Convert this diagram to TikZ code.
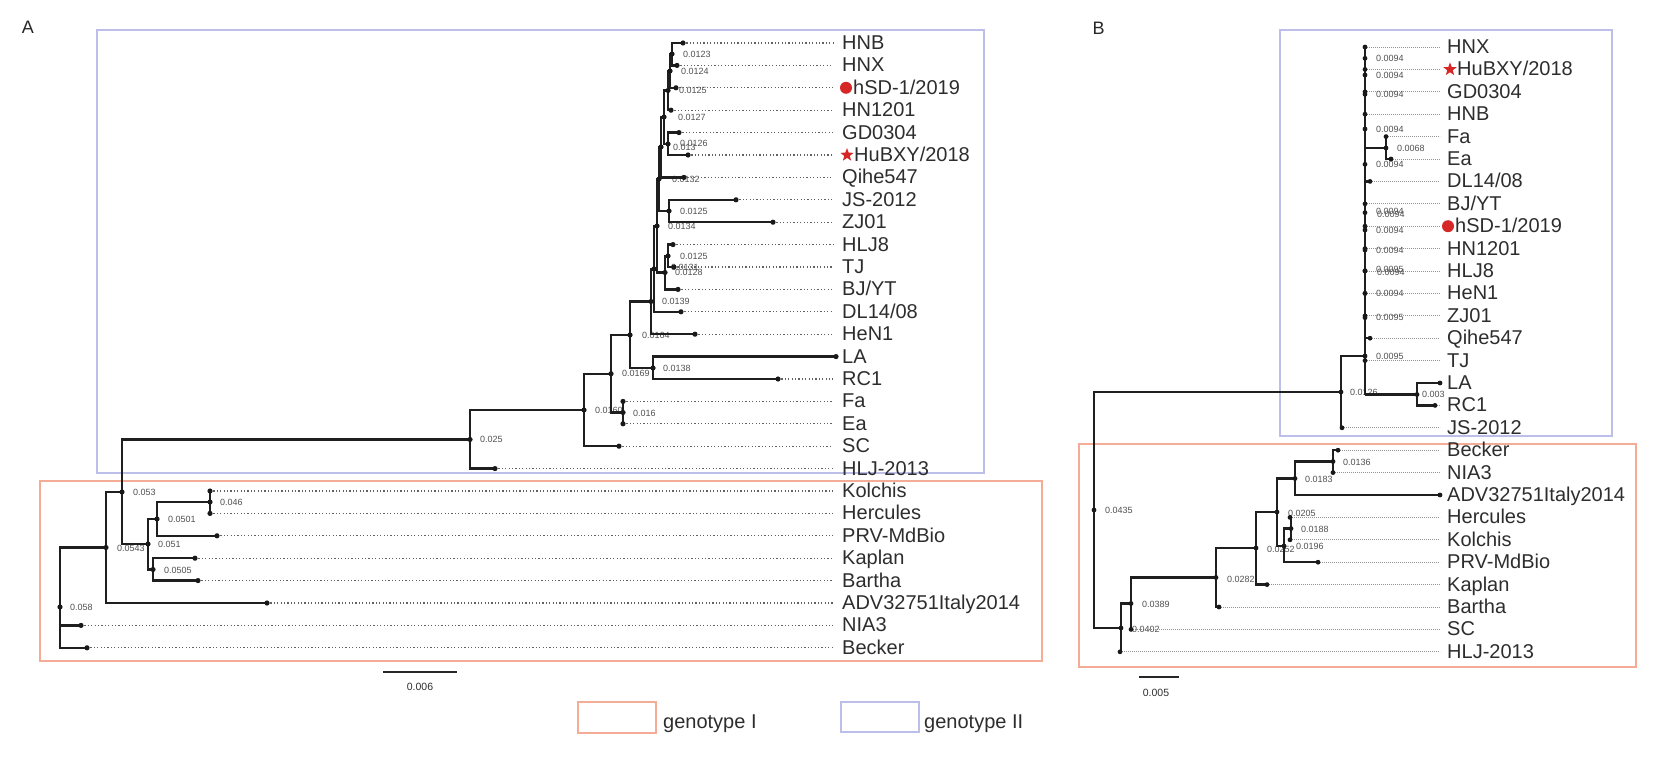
\documentclass[tikz,border=0pt]{standalone}
\usepackage{fontspec}
\setmainfont{Liberation Sans}
\usetikzlibrary{shapes.geometric}
\definecolor{gtone}{RGB}{245,172,150}
\definecolor{gttwo}{RGB}{190,190,234}
\definecolor{labgray}{RGB}{45,45,45}
\definecolor{numgray}{RGB}{80,80,80}
\definecolor{redmark}{RGB}{214,38,38}
\tikzset{
  branch/.style={line width=2.4pt, draw=black!88, line join=miter},
  ndot/.style={fill=black!90},
  dotA/.style={line width=1.2pt, draw=black!62, dash pattern=on 1.2pt off 2.2pt},
  dotB/.style={line width=0.8pt, draw=black!42, dash pattern=on 0.8pt off 1.2pt},
  tiplab/.style={anchor=base west, inner sep=0pt, font=\fontsize{20}{20}\selectfont, text=labgray},
  numlab/.style={anchor=west, inner sep=0pt, font=\fontsize{9}{9}\selectfont, text=numgray},
  panlab/.style={inner sep=0pt, font=\fontsize{18}{18}\selectfont, text=black!85},
  boxone/.style={draw=gtone, line width=2pt},
  boxtwo/.style={draw=gttwo, line width=2pt},
  reddot/.style={circle, fill=redmark, minimum size=12pt, inner sep=0pt},
  redstar/.style={star, star points=5, star point ratio=2.4, fill=redmark, minimum size=14pt, inner sep=0pt},
  scalebar/.style={line width=2.2pt, draw=black!85},
  scalelab/.style={inner sep=0pt, font=\fontsize{10.5}{10.5}\selectfont, text=labgray},
  leglab/.style={anchor=base west, inner sep=0pt, font=\fontsize{20}{20}\selectfont, text=labgray}
}
\begin{document}
\begin{tikzpicture}[x=1pt,y=-1pt]
\useasboundingbox (0,0) rectangle (1673,757);
% ---------- boxes ----------
\draw[boxtwo] (97,30) rectangle (984,473);
\draw[boxone] (40,481) rectangle (1042,661);
\draw[boxtwo] (1280,30) rectangle (1612,436);
\draw[boxone] (1079,444) rectangle (1636,667);
\node[panlab] (pA) at (28,27) {A};
\node[panlab] (pB) at (1098.5,28) {B};
% ---------- panel A tips ----------
\foreach \n/\x/\y/\lx/\t in {
 aHNB/683/43/842/HNB, aHNX/677/65.4/842/HNX, aHSD/676/87.8/853/{hSD-1/2019},
 aHN1201/671/110.2/842/HN1201, aGD/679/132.6/842/GD0304, aHUB/688/155/854/{HuBXY/2018},
 aQH/684/177.4/842/Qihe547, aJS/736/199.8/842/JS-2012, aZJ/773/222.2/842/ZJ01,
 aHLJ8/673/244.6/842/HLJ8, aTJ/674/267/842/TJ, aBJ/678/289.4/842/{BJ/YT},
 aDL/681/311.8/842/{DL14/08}, aHEN/695/334.2/842/HeN1, aLA/836/356.6/842/LA,
 aRC/778/379/842/RC1, aFA/623/401.4/842/Fa, aEA/623/423.8/842/Ea,
 aSC/619/446.2/842/SC, aHLJ13/495/468.6/842/HLJ-2013, aKOL/210/491/842/Kolchis,
 aHER/210/513.4/842/Hercules, aPRV/217/535.8/842/PRV-MdBio, aKAP/195/558.2/842/Kaplan,
 aBAR/198/580.6/842/Bartha, aADV/267/603/842/ADV32751Italy2014, aNIA/81/625.4/842/NIA3,
 aBEC/87/647.8/842/Becker}{
  \coordinate (\n) at (\x,\y);
  \coordinate (E\n) at (833,\y);
  \draw[dotA] (\n) -- (E\n);
  \node[tiplab] (L\n) at (\lx,{\y+6.5}) {\t};
}
% ---------- panel A internal nodes ----------
\coordinate (a1) at (672,54);
\coordinate (a2) at (670,71);
\coordinate (a3) at (668,90.5);
\coordinate (h1) at (668,144);
\coordinate (a4) at (664,117);
\coordinate (a5) at (661,147);
\coordinate (i1) at (669,211);
\coordinate (a6) at (659,179);
\coordinate (b1) at (668,256);
\coordinate (b2) at (665,272.5);
\coordinate (c1) at (657,226);
\coordinate (d1) at (654,269);
\coordinate (k1) at (651,301.5);
\coordinate (m1) at (653,368);
\coordinate (e1) at (630,335);
\coordinate (n1) at (623,412.5);
\coordinate (f1) at (611,373.75);
\coordinate (g1) at (584,410);
\coordinate (r2) at (470,439.5);
\coordinate (p1) at (210,502);
\coordinate (p2) at (157,519);
\coordinate (p3) at (153,569.5);
\coordinate (p4) at (148,544);
\coordinate (p5) at (122,492);
\coordinate (p6) at (106,547.5);
\coordinate (rA) at (60,607);
% labels A
\foreach \x/\y/\t in {683/54/0.0123, 681/71/0.0124, 679/90/0.0125, 680/143/0.0126,
 678/117/0.0127, 673/147/0.013, 672/179/0.0132, 680/211/0.0125, 668/226/0.0134,
 680/256/0.0125, 675/272/0.0128, 671/267.5/0.0131, 662/301/0.0139, 642/335/0.0164,
 663/368/0.0138, 622/373/0.0169, 633/413/0.016, 595/410/0.0160, 480/439/0.025,
 220/502/0.046, 168/519/0.0501, 158/544/0.051, 164/570/0.0505, 133/492/0.053,
 117/548/0.0543, 70/607/0.058}{
  \node[numlab] at (\x,\y) {\t};
}
% branches A
\foreach \p/\c in {a1/aHNB, a1/aHNX, a2/a1, a2/aHSD, a3/a2, a3/aHN1201, h1/aGD, h1/aHUB,
 a4/a3, a4/h1, a5/a4, a5/aQH, i1/aJS, i1/aZJ, a6/a5, a6/i1, b1/aHLJ8, b1/aTJ, b2/b1,
 b2/aBJ, c1/a6, c1/b2, d1/c1, d1/aDL, k1/d1, k1/aHEN, m1/aLA, m1/aRC, e1/k1, e1/m1,
 n1/aFA, n1/aEA, f1/e1, f1/n1, g1/f1, g1/aSC, r2/g1, r2/aHLJ13, p1/aKOL, p1/aHER,
 p2/p1, p2/aPRV, p3/aKAP, p3/aBAR, p4/p2, p4/p3, p5/r2, p5/p4, p6/p5, p6/aADV,
 rA/p6, rA/aNIA, rA/aBEC}{
  \draw[branch] (\p) |- (\c);
}
\foreach \n in {aHNB,aHNX,aHSD,aHN1201,aGD,aHUB,aQH,aJS,aZJ,aHLJ8,aTJ,aBJ,aDL,aHEN,aLA,
 aRC,aFA,aEA,aSC,aHLJ13,aKOL,aHER,aPRV,aKAP,aBAR,aADV,aNIA,aBEC,
 a1,a2,a3,h1,a4,a5,i1,a6,b1,b2,c1,d1,k1,m1,e1,n1,f1,g1,r2,p1,p2,p3,p4,p5,p6,rA}{
  \fill[ndot] (\n) circle (2.6pt);
}
\node[reddot] (mkA) at (846,87.8) {};
\node[redstar] (stA) at (847,155) {};
% scale A
\coordinate (sA1) at (383,672);
\coordinate (sA2) at (457,672);
\draw[scalebar] (sA1) -- (sA2);
\node[scalelab] (sAl) at (420,687) {0.006};
% ---------- panel B tips ----------
\foreach \n/\x/\y/\lx/\t in {
 bHNX/1365/47/1447/HNX, bHUB/1365/69.4/1457/{HuBXY/2018}, bGD/1365/91.8/1447/GD0304,
 bHNB/1365/114.2/1447/HNB, bFA/1386/136.6/1447/Fa, bEA/1391/159/1447/Ea,
 bDL/1370/181.4/1447/{DL14/08}, bBJ/1365/203.8/1447/{BJ/YT}, bHSD/1365/226.2/1455/{hSD-1/2019},
 bHN1201/1365/248.6/1447/HN1201, bHLJ8/1365/271/1447/HLJ8, bHEN/1365/293.4/1447/HeN1,
 bZJ/1365/315.8/1447/ZJ01, bQH/1370/338.2/1447/Qihe547, bTJ/1365/360.6/1447/TJ,
 bLA/1440/383/1447/LA, bRC/1435/405.4/1447/RC1, bJS/1342/427.8/1447/JS-2012,
 bBEC/1338/450.2/1447/Becker, bNIA/1333/472.6/1447/NIA3, bADV/1440/495/1447/ADV32751Italy2014,
 bHER/1290/517.4/1447/Hercules, bKOL/1290/539.8/1447/Kolchis, bPRV/1318/562.2/1447/PRV-MdBio,
 bKAP/1267/584.6/1447/Kaplan, bBAR/1219/607/1447/Bartha, bSC/1131/629.4/1447/SC,
 bHLJ13/1120/651.8/1447/HLJ-2013}{
  \coordinate (\n) at (\x,\y);
  \coordinate (E\n) at (1440,\y);
  \draw[dotB] (\n) -- (E\n);
  \node[tiplab] (L\n) at (\lx,{\y+6.5}) {\t};
}
% comb nodes on x=1365
\foreach \n/\y in {c58/58.3, c75/75, c94/94.3, c129/129, c148/148, c164/164.3, c181/181.4,
 c213/212.7, c230/230, c250/250, c271/270.7, c293/293.3, c318/317.7, c338/338.2, c356/356}{
  \coordinate (\n) at (1365,\y);
}
\coordinate (cbot) at (1365,394.5);
\coordinate (q1) at (1386,148);
\coordinate (q2) at (1417,394.5);
\coordinate (s1) at (1341,392);
\coordinate (u1) at (1333,461.5);
\coordinate (u2) at (1295,478.5);
\coordinate (u3) at (1291,528.6);
\coordinate (u4) at (1284,546);
\coordinate (u5) at (1277,512);
\coordinate (u6) at (1256,548);
\coordinate (u7) at (1216,577.5);
\coordinate (u8) at (1131,603.5);
\coordinate (u9) at (1121,628);
\coordinate (rB) at (1094,510);
% labels B
\foreach \x/\y/\t in {1376/58.3/0.0094, 1376/75/0.0094, 1376/94.3/0.0094, 1376/129/0.0094,
 1397/148/0.0068, 1376/164.3/0.0094, 1376/211/0.0094, 1377/214.5/0.0094, 1376/230/0.0094,
 1376/250/0.0094, 1376/269/0.0095, 1377/272.5/0.0094, 1376/293.3/0.0094, 1376/317.7/0.0095,
 1376/356/0.0095, 1422/394.5/0.003, 1350/392/0.0126, 1343/462/0.0136, 1305/479/0.0183,
 1301/529/0.0188, 1288/513/0.0205, 1296/546.5/0.0196, 1267/549/0.0252, 1227/579/0.0282,
 1142/604/0.0389, 1132/629/0.0402, 1105/510/0.0435}{
  \node[numlab] at (\x,\y) {\t};
}
% branches B
\draw[branch] (bHNX) -- (cbot);
\draw[branch] (cbot) -- (q2);
\draw[branch] (c148) -- (q1);
\draw[branch] (c181) -- (bDL);
\draw[branch] (c338) -- (bQH);
\foreach \p/\c in {q1/bFA, q1/bEA, q2/bLA, q2/bRC, s1/c356, s1/bJS, rB/s1, rB/u9,
 u1/bBEC, u1/bNIA, u2/u1, u2/bADV, u3/bHER, u3/bKOL, u4/u3, u4/bPRV, u5/u2, u5/u4,
 u6/u5, u6/bKAP, u7/u6, u7/bBAR, u8/u7, u8/bSC, u9/u8, u9/bHLJ13}{
  \draw[branch] (\p) |- (\c);
}
\foreach \n in {bHNX,bHUB,bGD,bHNB,bFA,bEA,bDL,bBJ,bHSD,bHN1201,bHLJ8,bHEN,bZJ,bQH,bTJ,
 bLA,bRC,bJS,bBEC,bNIA,bADV,bHER,bKOL,bPRV,bKAP,bBAR,bSC,bHLJ13,
 c58,c75,c94,c129,c164,c213,c230,c250,c271,c293,c318,c356,
 q1,q2,s1,u1,u2,u3,u4,u5,u6,u7,u8,u9,rB}{
  \fill[ndot] (\n) circle (2.4pt);
}
\node[reddot] (mkB) at (1448,226.2) {};
\node[redstar] (stB) at (1450,69.4) {};
% scale B
\coordinate (sB1) at (1139,677);
\coordinate (sB2) at (1179,677);
\draw[scalebar] (sB1) -- (sB2);
\node[scalelab] (sBl) at (1156,693) {0.005};
% ---------- legend ----------
\node[boxone, minimum width=78pt, minimum height=31pt, inner sep=0pt] (lg1) at (617,717.5) {};
\node[leglab] (lt1) at (663,728) {genotype I};
\node[boxtwo, minimum width=78pt, minimum height=30pt, inner sep=0pt] (lg2) at (880,717) {};
\node[leglab] (lt2) at (924,728) {genotype II};
\end{tikzpicture}
\end{document}
